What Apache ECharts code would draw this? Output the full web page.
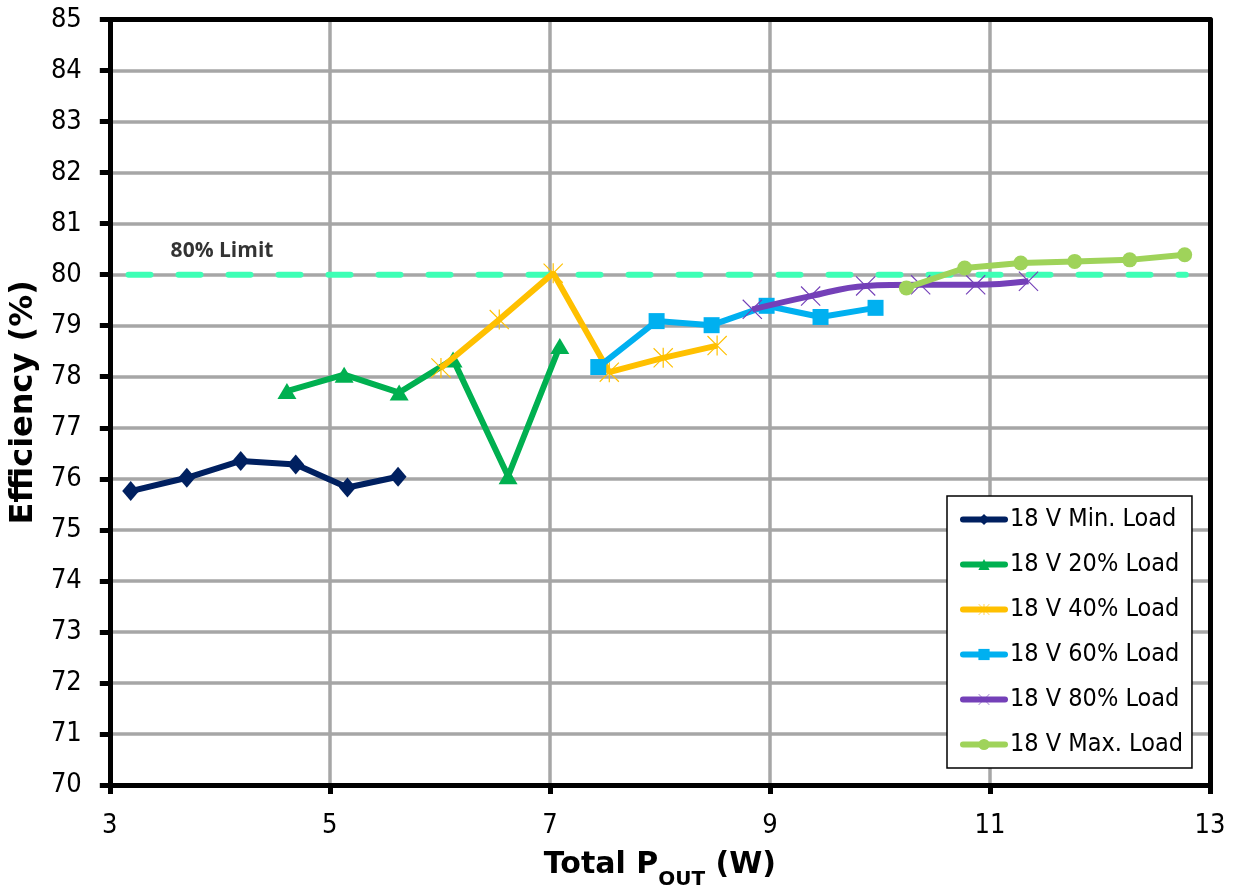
<!DOCTYPE html>
<html>
<head>
<meta charset="utf-8">
<script src="https://cdn.jsdelivr.net/npm/echarts@6/dist/echarts.min.js"></script>
<style>
html,body{margin:0;padding:0;background:#fff;}
#chart{width:1238px;height:895px;}
</style>
</head>
<body>
<div id="chart"></div>
<script>
// ---- data ----
const seriesNames = ['18 V Min. Load','18 V 20% Load','18 V 40% Load','18 V 60% Load','18 V 80% Load','18 V Max. Load'];
const minLoadX = [3.19, 3.70, 4.19, 4.69, 5.16, 5.62];
const minLoadY = [75.76, 76.02, 76.35, 76.28, 75.83, 76.04];
const load20X = [4.61, 5.13, 5.63, 6.12, 6.62, 7.09];
const load20Y = [77.72, 78.04, 77.69, 78.34, 76.05, 78.60];
const load40X = [6.01, 6.54, 7.03, 7.54, 8.03, 8.52];
const load40Y = [78.17, 79.12, 80.03, 78.09, 78.37, 78.61];
const load60X = [7.44, 7.97, 8.47, 8.97, 9.46, 9.96];
const load60Y = [78.19, 79.09, 79.01, 79.39, 79.17, 79.35];
const load80X = [8.84, 9.37, 9.87, 10.37, 10.87, 11.35];
const load80Y = [79.32, 79.58, 79.78, 79.80, 79.80, 79.87];
const maxLoadX = [10.24, 10.77, 11.28, 11.77, 12.27, 12.77];
const maxLoadY = [79.74, 80.13, 80.23, 80.26, 80.29, 80.39];
const limitX = [3.17, 12.78];
const limitY = [80, 80];
const limitLabel = '80% Limit';
const limitLabelX = 4.02;
const limitLabelY = 80.47;
const xTicks = [3, 5, 7, 9, 11, 13];
const yTicks = [70,71,72,73,74,75,76,77,78,79,80,81,82,83,84,85];

// ---- font pick ----
function hasFont(name){
  const c = document.createElement('canvas').getContext('2d');
  c.font = '40px monospace';
  const w1 = c.measureText('mmmmiiii18VLoad').width;
  c.font = '40px "' + name + '", monospace';
  const w2 = c.measureText('mmmmiiii18VLoad').width;
  return Math.abs(w1 - w2) > 0.5;
}
const condensed = hasFont('DejaVu Sans Condensed');
const regFont = condensed ? '"DejaVu Sans Condensed", "DejaVu Sans", sans-serif' : '"DejaVu Sans", sans-serif';
const regScale = condensed ? 1 : 0.9;
const boldFont = '"DejaVu Sans", sans-serif';

const zip = (xs, ys) => xs.map((x, i) => [x, ys[i]]);

const starPath = 'path://M47 0 L53 0 L53 100 L47 100 Z M0 4 L4 0 L100 96 L96 100 Z M96 0 L100 4 L4 100 L0 96 Z';
const xPath = 'path://M0 4 L4 0 L100 96 L96 100 Z M96 0 L100 4 L4 100 L0 96 Z';

const colors = ['#002060', '#00b050', '#ffc000', '#00b0f0', '#7440b8', '#9fd35a'];
const symbols = ['diamond', 'triangle', starPath, 'rect', xPath, 'circle'];
const sizes = [[17, 20], [19, 16], 20, 16, 20, 15];
const xs = [minLoadX, load20X, load40X, load60X, load80X, maxLoadX];
const ys = [minLoadY, load20Y, load40Y, load60Y, load80Y, maxLoadY];

const dataSeries = seriesNames.map((n, i) => ({
  name: n,
  type: 'line',
  data: zip(xs[i], ys[i]),
  smooth: i === 4 ? 0.4 : false,
  symbol: symbols[i],
  symbolSize: sizes[i],
  showSymbol: true,
  lineStyle: { color: colors[i], width: 6 },
  itemStyle: { color: colors[i], borderWidth: 0 },
  z: 3 + i,
  legendHoverLink: false,
  emphasis: { disabled: true }
}));

const legendData = seriesNames.map((n, i) => ({
  name: n,
  lineStyle: { color: colors[i], width: 6, cap: 'round' }
}));

const chart = echarts.init(document.getElementById('chart'), null, { renderer: 'canvas' });
const tickFont = 27;
chart.setOption({
  animation: false,
  backgroundColor: '#ffffff',
  grid: { left: 109, right: 28, top: 19.5, bottom: 109, containLabel: false },
  legend: {
    data: legendData,
    orient: 'vertical',
    left: 947,
    top: 496,
    padding: [11, 9, 11, 13],
    itemWidth: 42,
    itemHeight: 14,
    itemGap: 20,
    itemTextGap: 2,
    lineStyle: { width: 6, cap: 'round' },
    backgroundColor: '#ffffff',
    borderColor: '#000000',
    borderWidth: 1.5,
    borderRadius: 0,
    textStyle: { fontFamily: regFont, fontSize: Math.round(25 * regScale), color: '#000', lineHeight: 25 },
    z: 20
  },
  xAxis: [{
    type: 'value',
    min: 3, max: 13, interval: 2,
    name: '{a|Total P}{b|OUT}{a| (W)}',
    nameLocation: 'middle',
    nameGap: 65,
    nameTextStyle: {
      rich: {
        a: { fontFamily: boldFont, fontWeight: 'bold', fontSize: 30, color: '#000', lineHeight: 40, verticalAlign: 'top' },
        b: { fontFamily: boldFont, fontWeight: 'bold', fontSize: 20, color: '#000', lineHeight: 20, verticalAlign: 'bottom' }
      }
    },
    axisLine: { show: true, onZero: false, lineStyle: { color: '#000', width: 5 } },
    axisTick: { show: true, inside: false, length: 9, lineStyle: { color: '#000', width: 5 } },
    axisLabel: { fontFamily: regFont, fontSize: tickFont, color: '#000', margin: 27,
      formatter: v => xTicks.includes(v) ? String(v) : '' },
    splitLine: { show: true, lineStyle: { color: '#a6a6a6', width: 3.5 } }
  }, {
    type: 'value', position: 'top',
    min: 3, max: 13, interval: 2,
    axisLine: { show: true, onZero: false, lineStyle: { color: '#000', width: 5 } },
    axisTick: { show: false }, axisLabel: { show: false }, splitLine: { show: false }
  }],
  yAxis: [{
    type: 'value',
    min: 70, max: 85, interval: 1,
    name: 'Efficiency (%)',
    nameLocation: 'middle',
    nameGap: 66,
    nameTextStyle: { fontFamily: boldFont, fontWeight: 'bold', fontSize: 32, color: '#000' },
    axisLine: { show: true, onZero: false, lineStyle: { color: '#000', width: 5 } },
    axisTick: { show: true, inside: false, length: 10, lineStyle: { color: '#000', width: 5 } },
    axisLabel: { fontFamily: regFont, fontSize: tickFont, color: '#000', margin: 28,
      formatter: v => yTicks.includes(v) ? String(v) : '' },
    splitLine: { show: true, lineStyle: { color: '#a6a6a6', width: 3.5 } }
  }, {
    type: 'value', position: 'right',
    min: 70, max: 85, interval: 1,
    axisLine: { show: true, onZero: false, lineStyle: { color: '#000', width: 5 } },
    axisTick: { show: false }, axisLabel: { show: false }, splitLine: { show: false }
  }],
  series: [{
    name: '80% Limit',
    type: 'line',
    data: zip(limitX, limitY),
    symbol: 'none',
    lineStyle: { color: '#3dffb5', width: 6, type: [22, 28], cap: 'round' },
    z: 2,
    emphasis: { disabled: true }
  }, {
    name: 'limitLabel',
    type: 'scatter',
    data: [[limitLabelX, limitLabelY]],
    symbolSize: 1,
    itemStyle: { color: 'rgba(0,0,0,0)' },
    label: { show: true, position: 'inside', formatter: limitLabel,
      fontFamily: '"Open Sans", sans-serif', fontWeight: 'bold', fontSize: 21, color: '#000' },
    z: 2,
    emphasis: { disabled: true },
    silent: true
  }].concat(dataSeries)
});
</script>
</body>
</html>
